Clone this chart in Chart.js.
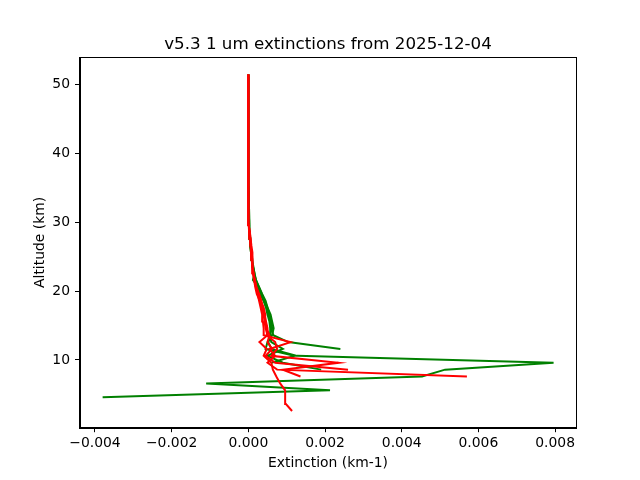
<!DOCTYPE html>
<html>
<head>
<meta charset="utf-8">
<script src="https://cdn.jsdelivr.net/npm/chart.js@4.4.0/dist/chart.umd.min.js"></script>
<style>
  html, body { margin: 0; padding: 0; background: #fff; }
  #chart01 { display: block; }
</style>
</head>
<body>
<canvas id="chart01" width="640" height="480"></canvas>
<script>
// 高度 (km)
var altitudes = [2.6, 3.6, 4.6, 5.6, 6.6, 7.6, 8.6, 9.6, 10.6, 11.6, 12.6, 13.6, 14.6, 15.6, 16.6, 17.6,
  18.6, 19.6, 20.6, 21.6, 22.6, 23.6, 24.6, 25.6, 26.6, 27.6, 28.6, 29.6, 35, 40, 45, 51.46];

// 消散係数 (km-1)  null = データなし
var green1 = [null, null, -0.0038, 0.00213, -0.0011, 0.00453, 0.00513, 0.00796, 0.00127, 0.0006,
  0.00052, 0.00058, 0.00057, 0.00055, 0.0005, 0.00046, 0.0004, 0.00033, 0.00025, 0.00012,
  0.00016, 0.00013, 0.0001, 0.00008, 0.00006, 0.00005, 0.00004, 0.00002, 0.00001, 0.000005, 0.000003, 0.000002];
var green2 = [null, null, null, null, null, null, null, null, null, 0.0024,
  0.00104, 0.00065, 0.0006, 0.00058, 0.00055, 0.0005, 0.00042, 0.00035, 0.00027, 0.0002,
  0.00016, 0.00012, 0.0001, 0.00008, 0.00006, 0.00005, 0.00003, 0.00002, 0.00001, 0.000005, 0.000003, 0.000002];
var green3 = [null, null, null, null, null, null, 0.0019, 0.0009, 0.0005, 0.0009,
  0.0006, 0.00055, 0.00062, 0.0006, 0.00052, 0.00048, 0.0004, 0.0003, 0.00022, 0.00018,
  0.00014, 0.00012, 0.00008, 0.00007, 0.00005, 0.00004, 0.00003, 0.00002, 0.00001, 0.000005, 0.000003, 0.000002];
var green4 = [null, null, null, null, null, null, null, 0.0006, 0.0012, 0.00045,
  0.0005, 0.00062, 0.00066, 0.00062, 0.00058, 0.0005, 0.00045, 0.00036, 0.00028, 0.0002,
  0.00015, 0.00011, 0.00009, 0.00007, 0.00005, 0.00004, 0.00003, 0.00002, 0.00001, 0.000005, 0.000003, 0.000002];

var red1 = [0.00114, 0.00098, 0.00096, 0.00096, 0.00083, 0.00073, 0.00064, 0.0006, 0.0004, 0.00048,
  0.00029, 0.0005, 0.00045, 0.00042, 0.0004, 0.00035, 0.0003, 0.00022, 0.00018, 0.00015,
  0.00012, 0.00012, 0.0001, 0.0001, 0.00008, 0.00006, 0.00004, 0.00001, 0, 0, 0, 0];
var red2 = [null, null, null, null, null, 0.0057, 0.00075, 0.0005, 0.0007, 0.00055,
  0.0011, 0.0004, 0.0004, 0.00038, 0.00036, 0.00032, 0.00028, 0.00024, 0.0002, 0.00016,
  0.00014, 0.00011, 0.00009, 0.00008, 0.00006, 0.00005, 0.00003, 0.00001, 0, 0, 0, 0];
var red3 = [null, null, null, null, null, null, 0.0026, 0.0007, 0.00045, 0.00062,
  0.0005, 0.00055, 0.00048, 0.00045, 0.00044, 0.0004, 0.00032, 0.00026, 0.0002, 0.00017,
  0.00013, 0.0001, 0.00009, 0.00007, 0.00006, 0.00004, 0.00002, 0.00001, 0, 0, 0, 0];
var red4 = [null, null, null, null, null, 0.00136, 0.0009, 0.00235, 0.0006, 0.00075,
  0.0007, 0.00048, 0.0005, 0.00046, 0.00042, 0.00038, 0.00034, 0.00028, 0.00021, 0.00017,
  0.00012, 0.00011, 0.0001, 0.00009, 0.00007, 0.00005, 0.00003, 0.00001, 0, 0, 0, 0];

var xTicks = [-0.004, -0.002, 0, 0.002, 0.004, 0.006, 0.008];
var yTicks = [10, 20, 30, 40, 50];

var chartTitle = 'v5.3 1 um extinctions from 2025-12-04';
var FONT = '"DejaVu Sans", "Liberation Sans", sans-serif';

function toPoints(ext) {
  var pts = [];
  ext.forEach(function(v, i) {
    if (v !== null) pts.push({ x: v, y: altitudes[i] });
  });
  return pts;
}

function profile(ext, color, order) {
  return {
    data: toPoints(ext),
    showLine: true,
    borderColor: color,
    backgroundColor: color,
    borderWidth: 2,
    pointRadius: 0,
    tension: 0,
    fill: false,
    order: order,
  };
}

// 枠線 (上下左右) とタイトル
var framePlugin = {
  id: 'frame',
  afterDraw: function(chart) {
    var a = chart.chartArea;
    var ctx = chart.ctx;
    ctx.save();
    ctx.strokeStyle = '#000';
    ctx.lineWidth = 1;
    ctx.strokeRect(Math.round(a.left) - 0.5, Math.round(a.top) - 0.5,
      Math.round(a.right - a.left) + 1, Math.round(a.bottom - a.top) + 1);
    ctx.fillStyle = '#000';
    ctx.font = '16.7px ' + FONT;
    ctx.textAlign = 'center';
    ctx.textBaseline = 'alphabetic';
    ctx.fillText(chartTitle, (a.left + a.right) / 2, a.top - 8.3);
    ctx.restore();
  }
};

window.addEventListener('load', function() {
  var ctx = document.getElementById('chart01');
  var myChart = new Chart(ctx, {
    type: 'scatter',
    data: {
      datasets: [
        profile(green1, 'green', 1),
        profile(green2, 'green', 1),
        profile(green3, 'green', 1),
        profile(green4, 'green', 1),
        profile(red1, 'red', 0),
        profile(red2, 'red', 0),
        profile(red3, 'red', 0),
        profile(red4, 'red', 0),
      ]
    },
    options: {
      responsive: false,
      animation: false,
      layout: {
        padding: { left: 0, right: 64, top: 57.6, bottom: 0 }
      },
      plugins: {
        legend: { display: false },
        title: { display: false },
        tooltip: { enabled: false },
      },
      scales: {
        x: {
          type: 'linear',
          min: -0.00439,
          max: 0.008545,
          afterBuildTicks: function(scale) {
            scale.ticks = xTicks.map(function(v) { return { value: v }; });
          },
          afterFit: function(scale) { scale.height = 52.8; },
          ticks: {
            color: '#000',
            padding: 3,
            maxRotation: 0,
            font: { family: FONT, size: 13.9 },
            callback: function(v) {
              return (v < 0 ? '\u2212' : '') + Math.abs(v).toFixed(3);
            }
          },
          grid: {
            drawOnChartArea: false,
            drawTicks: true,
            tickLength: 5,
            color: '#000',
          },
          border: { display: true, color: '#000' },
          title: {
            display: true,
            text: 'Extinction (km-1)',
            color: '#000',
            font: { family: FONT, size: 13.9 },
            padding: { top: 8.7, bottom: 8.7 },
          }
        },
        y: {
          type: 'linear',
          min: 0.243,
          max: 53.9,
          afterBuildTicks: function(scale) {
            scale.ticks = yTicks.map(function(v) { return { value: v }; });
          },
          afterFit: function(scale) { scale.width = 80; },
          ticks: {
            color: '#000',
            padding: 5,
            font: { family: FONT, size: 13.9 },
          },
          grid: {
            drawOnChartArea: false,
            drawTicks: true,
            tickLength: 5,
            color: '#000',
          },
          border: { display: true, color: '#000' },
          title: {
            display: true,
            text: 'Altitude (km)',
            color: '#000',
            font: { family: FONT, size: 13.9 },
            padding: { top: 32, bottom: 32 },
          }
        }
      }
    },
    plugins: [framePlugin]
  });
});
</script>
</body>
</html>
